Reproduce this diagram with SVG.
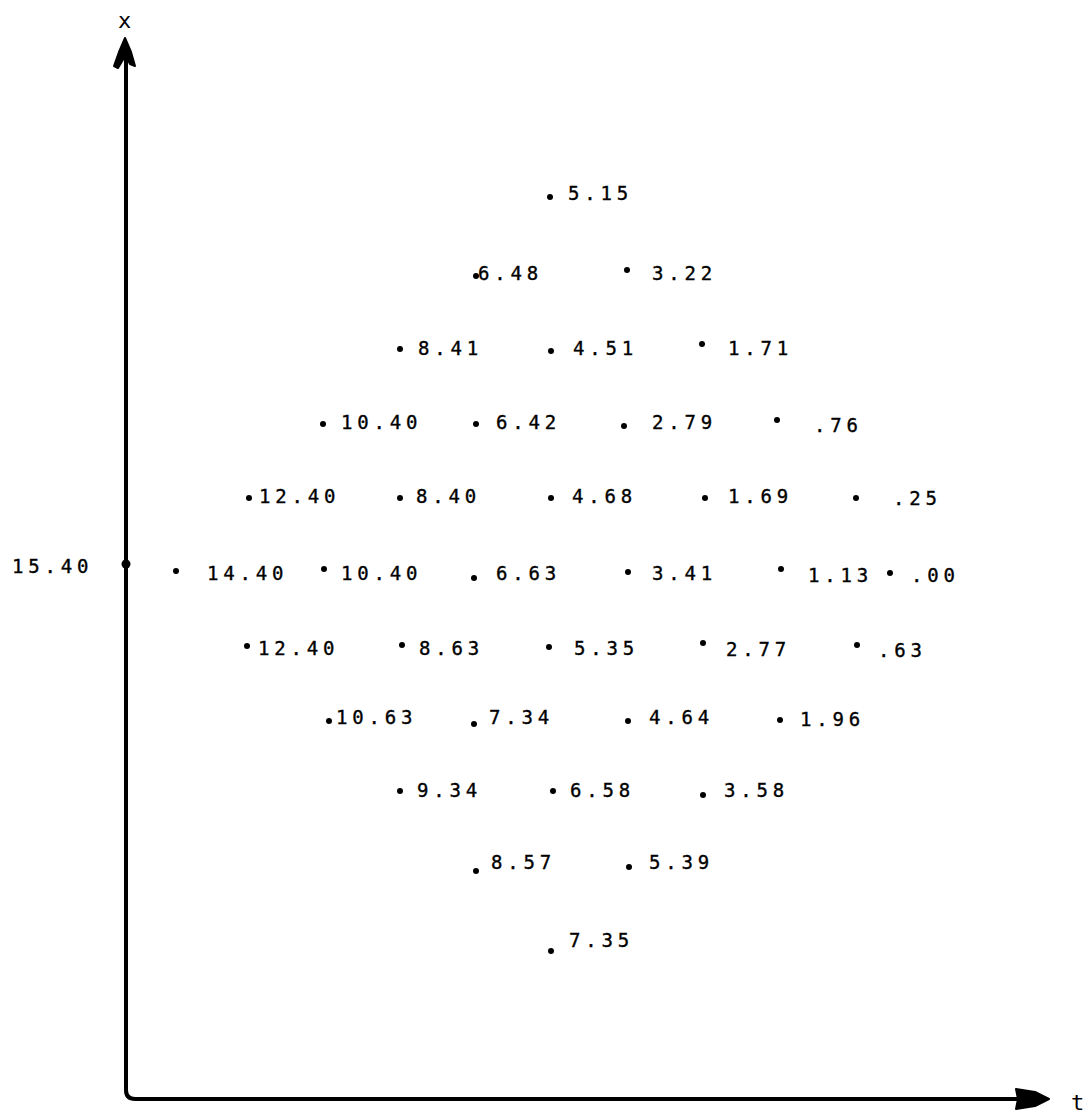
<svg xmlns="http://www.w3.org/2000/svg" width="1091" height="1119" viewBox="0 0 1091 1119">
<style>
.lbl{font-family:"DejaVu Sans Mono","Liberation Mono",monospace;font-size:19px;fill:#000;stroke:#000;stroke-width:0.35;letter-spacing:4.8px}
.ax{font-family:"DejaVu Sans Mono","Liberation Mono",monospace;font-size:22px;fill:#000}
.d{fill:#000}
.axis{stroke:#000;stroke-width:4;fill:none;stroke-linecap:round}
</style>
<rect width="1091" height="1119" fill="#fff"/>
<g id="axes">
<path class="axis" d="M126,45 L126,1090 Q126,1099 135,1099 L1020,1099"/>
<path d="M125,38 L131,52 L135,66 L130,64 L127,58 L124,58 L118,68 L114,66 L119,52 Z" fill="#000" stroke="#000" stroke-width="2" stroke-linejoin="round"/>
<path d="M1049,1099 L1035,1092 L1016,1089 L1018,1099 L1016,1109 L1035,1106 Z" fill="#000" stroke="#000" stroke-width="2" stroke-linejoin="round"/>
<text class="ax" x="118" y="28">x</text>
<text class="ax" x="1071" y="1110">t</text>
<circle cx="126" cy="564" r="4.5" class="d"/>
<text class="lbl" x="12" y="573">15.40</text>
</g>
<g id="nodes">
<g id="r1"><circle cx="550" cy="197" r="3" class="d"/><text class="lbl" x="568" y="200">5.15</text></g>
<g id="r2">
<circle cx="476" cy="276" r="3" class="d"/><text class="lbl" x="478" y="280">6.48</text>
<circle cx="627" cy="270" r="3" class="d"/><text class="lbl" x="652" y="280">3.22</text>
</g>
<g id="r3">
<circle cx="400" cy="349" r="3" class="d"/><text class="lbl" x="418" y="355">8.41</text>
<circle cx="551" cy="351" r="3" class="d"/><text class="lbl" x="573" y="355">4.51</text>
<circle cx="702" cy="344" r="3" class="d"/><text class="lbl" x="728" y="355">1.71</text>
</g>
<g id="r4">
<circle cx="323" cy="424" r="3" class="d"/><text class="lbl" x="341" y="429">10.40</text>
<circle cx="476" cy="424" r="3" class="d"/><text class="lbl" x="496" y="429">6.42</text>
<circle cx="624" cy="426" r="3" class="d"/><text class="lbl" x="652" y="429">2.79</text>
<circle cx="777" cy="420" r="3" class="d"/><text class="lbl" x="814" y="432">.76</text>
</g>
<g id="r5">
<circle cx="249" cy="498" r="3" class="d"/><text class="lbl" x="259" y="503">12.40</text>
<circle cx="400" cy="498" r="3" class="d"/><text class="lbl" x="416" y="503">8.40</text>
<circle cx="551" cy="498" r="3" class="d"/><text class="lbl" x="572" y="503">4.68</text>
<circle cx="705" cy="498" r="3" class="d"/><text class="lbl" x="728" y="503">1.69</text>
<circle cx="856" cy="498" r="3" class="d"/><text class="lbl" x="893" y="505">.25</text>
</g>
<g id="r6">
<circle cx="176" cy="571" r="3" class="d"/><text class="lbl" x="207" y="580">14.40</text>
<circle cx="324" cy="569" r="3" class="d"/><text class="lbl" x="341" y="580">10.40</text>
<circle cx="474" cy="578" r="3" class="d"/><text class="lbl" x="496" y="580">6.63</text>
<circle cx="628" cy="572" r="3" class="d"/><text class="lbl" x="652" y="580">3.41</text>
<circle cx="781" cy="569" r="3" class="d"/><text class="lbl" x="808" y="582">1.13</text>
<circle cx="890" cy="573" r="3" class="d"/><text class="lbl" x="911" y="582">.00</text>
</g>
<g id="r7">
<circle cx="247" cy="646" r="3" class="d"/><text class="lbl" x="258" y="655">12.40</text>
<circle cx="402" cy="645" r="3" class="d"/><text class="lbl" x="419" y="655">8.63</text>
<circle cx="549" cy="647" r="3" class="d"/><text class="lbl" x="574" y="655">5.35</text>
<circle cx="703" cy="643" r="3" class="d"/><text class="lbl" x="726" y="656">2.77</text>
<circle cx="857" cy="645" r="3" class="d"/><text class="lbl" x="878" y="657">.63</text>
</g>
<g id="r8">
<circle cx="329" cy="721" r="3" class="d"/><text class="lbl" x="336" y="724">10.63</text>
<circle cx="474" cy="724" r="3" class="d"/><text class="lbl" x="489" y="724">7.34</text>
<circle cx="628" cy="721" r="3" class="d"/><text class="lbl" x="649" y="724">4.64</text>
<circle cx="780" cy="720" r="3" class="d"/><text class="lbl" x="800" y="726">1.96</text>
</g>
<g id="r9">
<circle cx="400" cy="791" r="3" class="d"/><text class="lbl" x="417" y="797">9.34</text>
<circle cx="553" cy="791" r="3" class="d"/><text class="lbl" x="570" y="797">6.58</text>
<circle cx="703" cy="795" r="3" class="d"/><text class="lbl" x="724" y="797">3.58</text>
</g>
<g id="r10">
<circle cx="476" cy="871" r="3" class="d"/><text class="lbl" x="491" y="869">8.57</text>
<circle cx="629" cy="867" r="3" class="d"/><text class="lbl" x="649" y="869">5.39</text>
</g>
<g id="r11">
<circle cx="551" cy="951" r="3" class="d"/><text class="lbl" x="569" y="947">7.35</text>
</g>
</g>
</svg>
